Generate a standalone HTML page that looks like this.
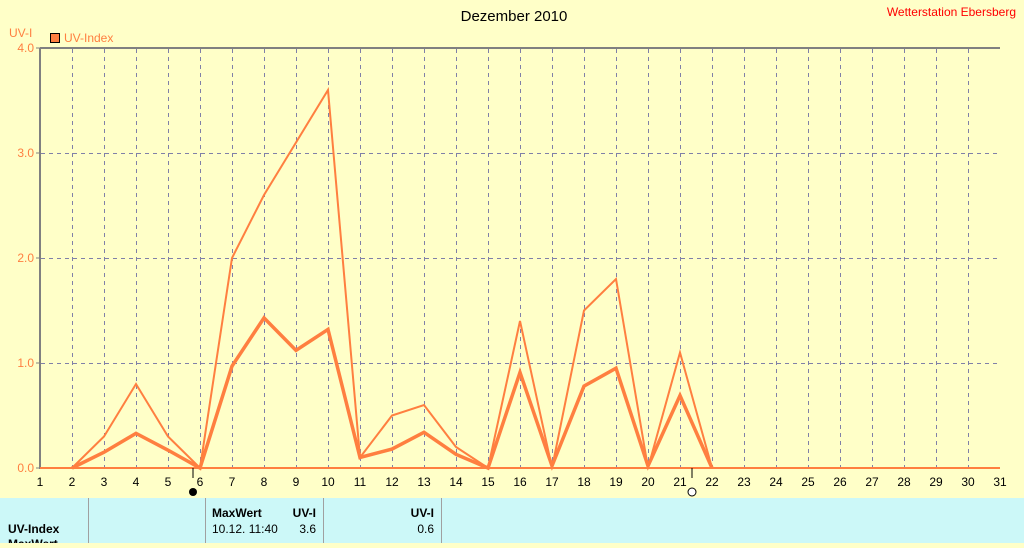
<!DOCTYPE html>
<html><head><meta charset="utf-8"><style>
body{margin:0;background:#ffffc8;width:1024px;height:543px;overflow:hidden;font-family:"Liberation Sans",sans-serif}
</style></head><body>
<svg id="s" width="1024" height="543" xmlns="http://www.w3.org/2000/svg" font-family="Liberation Sans, sans-serif" font-size="12">
<rect width="1024" height="543" fill="#ffffc8"/>
<text x="514" y="21" text-anchor="middle" font-size="15" fill="#000">Dezember 2010</text>
<text x="1016" y="16" text-anchor="end" fill="#ff0000">Wetterstation Ebersberg</text>
<text x="9" y="37" fill="#ff7f40">UV-I</text>
<rect x="50.5" y="33.5" width="9" height="9" fill="#ff7f40" stroke="#000"/>
<text x="64" y="42" fill="#ff7f40">UV-Index</text>
<g id="grid"></g>
<line x1="40" y1="48" x2="1000" y2="48" stroke="#808080" stroke-width="2"/>
<line x1="40" y1="48" x2="40" y2="469" stroke="#808080" stroke-width="2"/>
<g id="lines"></g>
<line x1="40" y1="468" x2="1000" y2="468" stroke="#ff7f40" stroke-width="2"/>
<line x1="193" y1="468" x2="193" y2="478" stroke="#000"/>
<circle cx="193" cy="492" r="4" fill="#000"/>
<line x1="692" y1="468" x2="692" y2="478" stroke="#000"/>
<circle cx="692" cy="492" r="4" fill="#fff" stroke="#000"/>
<rect x="0" y="498" width="1024" height="45" fill="#ccf8f8"/>
<g stroke="#a0a0a0" stroke-width="1"><line x1="88.5" y1="498" x2="88.5" y2="543"/><line x1="205.5" y1="498" x2="205.5" y2="543"/><line x1="323.5" y1="498" x2="323.5" y2="543"/><line x1="441.5" y1="498" x2="441.5" y2="543"/></g>
<g font-size="12" fill="#000">
<text x="212" y="517" font-weight="bold">MaxWert</text>
<text x="316" y="517" font-weight="bold" text-anchor="end">UV-I</text>
<text x="434" y="517" font-weight="bold" text-anchor="end">UV-I</text>
<text x="8" y="533" font-weight="bold">UV-Index</text>
<text x="212" y="533">10.12.  11:40</text>
<text x="316" y="533" text-anchor="end">3.6</text>
<text x="434" y="533" text-anchor="end">0.6</text>
<text x="8" y="548" font-weight="bold">MaxWert</text>
</g>
</svg>
<script>
var NS="http://www.w3.org/2000/svg",g=document.getElementById("grid"),L=document.getElementById("lines");
function el(p,t,a,txt){var e=document.createElementNS(NS,t);for(var k in a)e.setAttribute(k,a[k]);if(txt!=null)e.textContent=txt;p.appendChild(e);return e;}
function X(d){return 40+32*(d-1);}function Y(v){return 468-105*v;}
for(var d=1;d<=31;d++){var x=X(d);
 if(d>1&&d<31)el(g,"line",{x1:x+.5,y1:49,x2:x+.5,y2:468,stroke:"#8080a8","stroke-dasharray":"4,4"});
 el(g,"text",{x:x,y:486,"text-anchor":"middle",fill:"#000"},d);}
for(var v=0;v<=4;v++){var y=Y(v);
 if(v>0&&v<4)el(g,"line",{x1:41,y1:y+.5,x2:1000,y2:y+.5,stroke:"#8080a8","stroke-dasharray":"4,4"});
 el(g,"line",{x1:36,y1:y,x2:40,y2:y,stroke:"#808080"});
 el(g,"text",{x:34,y:y+4,"text-anchor":"end",fill:"#ff7f40"},v.toFixed(1));}
var mx=[0,.3,.8,.3,0,2,2.6,3.1,3.6,.1,.5,.6,.2,0,1.4,0,1.5,1.8,0,1.1,0];
var av=[0,.15,.33,.17,0,.97,1.43,1.12,1.32,.1,.18,.34,.13,0,.91,.02,.78,.95,.02,.69,0];
function pts(a){return a.map(function(v,i){return X(i+2)+","+Y(v)}).join(" ");}
el(L,"polyline",{points:pts(mx),fill:"none",stroke:"#ff7f40","stroke-width":2});
el(L,"polyline",{points:pts(av),fill:"none",stroke:"#ff7f40","stroke-width":3.5});
</script>
</body></html>
